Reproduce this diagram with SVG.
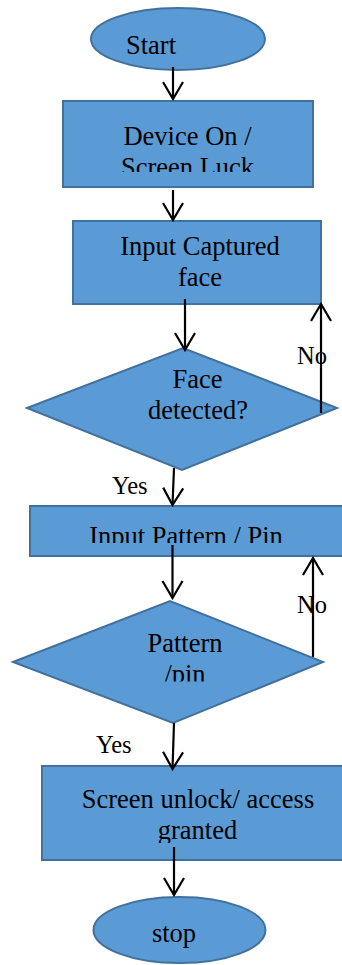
<svg xmlns="http://www.w3.org/2000/svg" width="342" height="965" viewBox="0 0 342 965">
<defs>
<style>
.shape{fill:#5B9BD5;stroke:#41719C;stroke-width:2}
.t{font-family:"Liberation Serif","Times New Roman",serif;font-size:26.5px;fill:#000;text-anchor:middle}
.lbl{font-family:"Liberation Serif","Times New Roman",serif;font-size:24.5px;fill:#000}
.c{stroke:#000;stroke-width:2.2;fill:none;marker-end:url(#arr)}
</style>
<marker id="arr" markerUnits="userSpaceOnUse" viewBox="-19 -12 21 24" markerWidth="21" markerHeight="24" refX="0" refY="0" orient="auto">
<path d="M-17,-10 L0,0 L-17,10" fill="none" stroke="#000" stroke-width="2.2"/>
</marker>
<clipPath id="clipDev"><rect x="0" y="0" width="342" height="172"/></clipPath>
<clipPath id="clipPat"><rect x="0" y="0" width="342" height="543"/></clipPath>
<clipPath id="clipPin"><rect x="0" y="0" width="342" height="681.5"/></clipPath>
<clipPath id="clipGr"><rect x="0" y="0" width="342" height="843"/></clipPath>
</defs>
<g id="start">
<ellipse class="shape" cx="178" cy="39" rx="87" ry="31"/>
<text class="t" x="151" y="54">Start</text>
</g>
<g id="device">
<rect class="shape" x="63" y="101" width="250" height="86"/>
<g clip-path="url(#clipDev)">
<text class="t" x="187.5" y="145">Device On /</text>
<text class="t" x="187.5" y="176">Screen Luck</text>
</g>
</g>
<g id="input-face">
<rect class="shape" x="73" y="221" width="248" height="83"/>
<text class="t" x="200" y="255">Input Captured</text>
<text class="t" x="200" y="286">face</text>
</g>
<g id="face-detected">
<polygon class="shape" points="27,408 183,348 337,408 182,470"/>
<text class="t" x="197.5" y="388">Face</text>
<text class="t" x="198" y="419">detected?</text>
</g>
<g id="input-pattern">
<rect class="shape" x="30" y="506" width="314" height="50"/>
<g clip-path="url(#clipPat)">
<text class="t" x="186" y="545">Input Pattern / Pin</text>
</g>
</g>
<g id="pattern-pin">
<polygon class="shape" points="13,662 170,601 323,662 173,723"/>
<text class="t" x="185" y="652">Pattern</text>
<g clip-path="url(#clipPin)">
<text class="t" x="185" y="683">/pin</text>
</g>
</g>
<g id="unlock">
<rect class="shape" x="42" y="766" width="302" height="94"/>
<text class="t" x="198" y="808">Screen unlock/ access</text>
<g clip-path="url(#clipGr)">
<text class="t" x="197.5" y="839">granted</text>
</g>
</g>
<g id="stop">
<ellipse class="shape" cx="179.5" cy="930" rx="86" ry="33"/>
<text class="t" x="174" y="942">stop</text>
</g>
<g id="labels">
<text class="lbl" x="297" y="364">No</text>
<text class="lbl" x="297" y="613">No</text>
<text class="lbl" x="112" y="494">Yes</text>
<text class="lbl" x="96" y="753">Yes</text>
</g>
<g id="connectors">
<line class="c" x1="173" y1="67" x2="173" y2="99"/>
<line class="c" x1="173" y1="190" x2="173" y2="220"/>
<line class="c" x1="185" y1="299" x2="185" y2="350"/>
<line class="c" x1="321" y1="413" x2="321" y2="304"/>
<line class="c" x1="174" y1="468" x2="172.5" y2="505"/>
<line class="c" x1="172.5" y1="545" x2="172.5" y2="598"/>
<line class="c" x1="313" y1="657" x2="313" y2="558"/>
<line class="c" x1="174" y1="723" x2="172.5" y2="769"/>
<line class="c" x1="174" y1="847" x2="174" y2="895"/>
</g>
</svg>
